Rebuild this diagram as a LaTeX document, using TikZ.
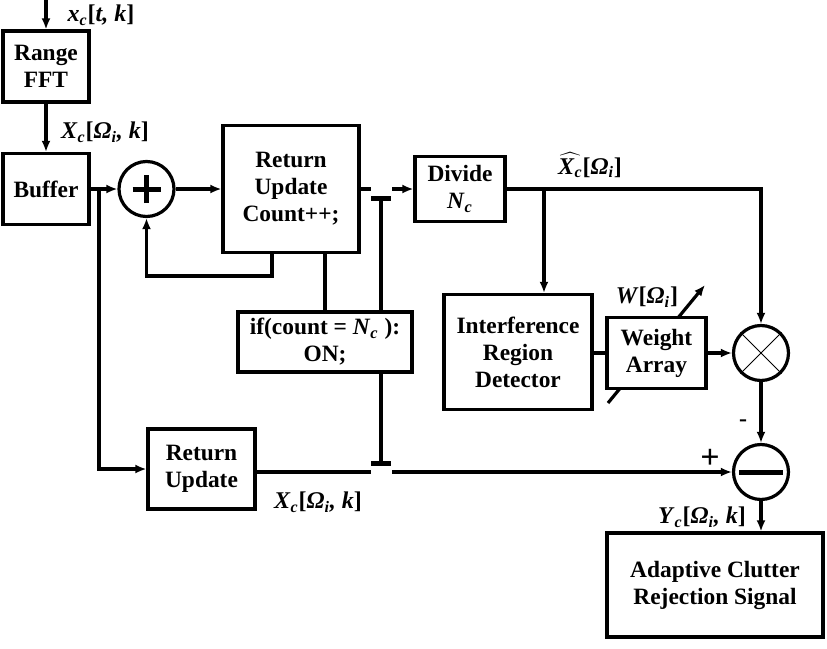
\documentclass[tikz,border=0pt]{standalone}
\usepackage{fontspec}
\setmainfont{Liberation Serif}
\usetikzlibrary{arrows.meta}
\pgfdeclarelayer{background}
\pgfsetlayers{background,main}
\newcommand\bi[1]{\textbf{\textit{#1}}}
\newcommand\sig[3]{\bi{#1}\textsubscript{\bi{#2}}\textbf{[}\bi{#3}\textbf{]}}

\begin{document}
\begin{tikzpicture}
	[
		x=0.5pt,
		y=-0.5pt,
		line width=1.6pt,
		>={Latex[length=5.5pt,width=4.5pt]},
		font=\fontsize{11.7}{13.5}\selectfont\bfseries,
		blk/.style={draw,fill=white,align=center,inner sep=1pt},
		opc/.style={draw,circle,minimum size=27.5pt,inner sep=0pt},
		lbl/.style={inner sep=0pt,font=\fontsize{12}{14}\selectfont\bfseries}
	]
		\useasboundingbox (0,0) rectangle (827,649);
		\node[blk,minimum width=43pt,minimum height=35.5pt] (fft) at (46,66.5) {Range\\FFT};
		\node[blk,minimum width=43pt,minimum height=35.5pt] (buf) at (46,189) {Buffer};
		\node[opc] (sum) at (146.5,189) {};
		\node[blk,minimum width=68pt,minimum height=63.5pt] (ru) at (291,189) {Return\\Update\\Count++;};
		\node[blk,minimum width=87pt,minimum height=30pt] (ifb) at (325,342) {if(count = \bi{N}\textsubscript{\bi{c}} ):\\ON;};
		\node[blk,minimum width=45pt,minimum height=32.5pt] (div) at (460,189) {Divide\\\bi{N}\textsubscript{\bi{c}}};
		\node[blk,minimum width=74pt,minimum height=57.5pt] (ird) at (518,352) {Interference\\Region\\Detector};
		\node[blk,minimum width=49.5pt,minimum height=35.5pt] (wa) at (656.5,353) {Weight\\Array};
		\node[opc] (mul) at (761,353) {};
		\node[opc] (sub) at (761,472) {};
		\node[blk,minimum width=53.5pt,minimum height=40pt] (ru2) at (201.5,469) {Return\\Update};
		\node[blk,minimum width=108pt,minimum height=52pt] (acr) at (715,585) {Adaptive Clutter\\Rejection Signal};

		\node[lbl] (lin) at (101,15) {\sig{x}{c}{t, k}};
		\node[lbl] (lfft) at (105,132) {\sig{X}{c}{Ω\textsubscript{i}, k}};
		\node[lbl] (lhat) at (590,165) {$\widehat{\hbox{\bi{X}\textsubscript{\bi{c}}}}$\textbf{[}\bi{Ω\textsubscript{i}}\textbf{]}};
		\node[lbl] (lw) at (647,297) {\bi{W}\textbf{[}\bi{Ω\textsubscript{i}}\textbf{]}};
		\node[lbl] (lru) at (318,502) {\sig{X}{c}{Ω\textsubscript{i}, k}};
		\node[lbl] (ly) at (702,517) {\sig{Y}{c}{Ω\textsubscript{i}, k}};
		\node[lbl,font=\fontsize{17}{17}\selectfont\bfseries] (lp) at (710,459) {+};
		\node[lbl] (lm) at (743,423) {-};

		\coordinate (top) at (46,0);
		\coordinate (br) at (99,189);
		\coordinate (fb) at (272,276);
		\coordinate (sa) at (371,189);
		\coordinate (sb) at (392,189);
		\coordinate (ta) at (381,198);
		\coordinate (tb) at (381,463);
		\coordinate (la) at (371,472);
		\coordinate (lb) at (392,472);
		\coordinate (dv) at (544,189);
		\coordinate (wlo) at (608,403);
		\coordinate (whi) at (705,285);

		\draw[->] (top) -- (fft);
		\draw[->] (fft) -- (buf);
		\draw[->] (buf) -- (sum);
		\draw[->] (br) |- (ru2);
		\draw[->] (sum) -- (ru);
		\draw[->] (fb |- ru.south) -- (fb) -| (sum);
		\draw (ru.south -| ifb) -- (ifb);
		\draw (ru) -- (sa);
		\draw[->] (sb) -- (div);
		\draw (ta) -- (ta |- ifb.north);
		\draw (ifb.south -| tb) -- (tb);
		\draw[line width=2.5pt] ([xshift=-5pt]ta) -- ([xshift=5pt]ta);
		\draw[line width=2.5pt] ([xshift=-5pt]tb) -- ([xshift=5pt]tb);
		\draw (ru2.east |- la) -- (la);
		\draw[->] (lb) -- (sub);
		\draw[->] (div) -| (mul);
		\draw[->] (dv) -- (dv |- ird.north);
		\draw (ird.east |- wa) -- (wa);
		\draw[->] (wa) -- (mul);
		\draw[->] (mul) -- (sub);
		\draw[->] (sub) -- (sub |- acr.north);
		\begin{pgfonlayer}{background}
			\draw[line width=1.6pt,-{Latex[length=5.5pt,width=4.5pt]}] (wlo) -- (whi);
		\end{pgfonlayer}

		\draw[line width=2.5pt] ([xshift=-7pt]sum.center) -- ([xshift=7pt]sum.center) ([yshift=-7pt]sum.center) -- ([yshift=7pt]sum.center);
		\draw (mul.north west) -- (mul.south east) (mul.north east) -- (mul.south west);
		\draw[line width=2.5pt] ([xshift=-11pt]sub.center) -- ([xshift=11pt]sub.center);
	\end{tikzpicture}
\end{document}
